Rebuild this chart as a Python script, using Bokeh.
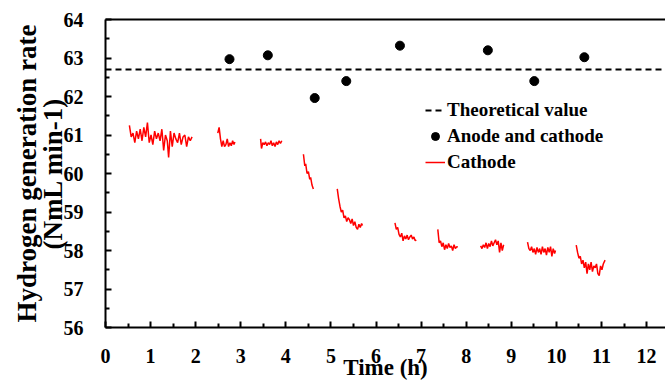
import math
import numpy as np
from bokeh.plotting import figure
from bokeh.models import FixedTicker, LinearAxis, Legend, LegendItem
from bokeh.embed import file_html
from bokeh.resources import INLINE

# ---------------- data ----------------
theoretical_value = 62.7

anode_cathode_time = [2.75, 3.6, 4.64, 5.34, 6.53, 8.48, 9.51, 10.62]
anode_cathode_rate = [62.97, 63.07, 61.96, 62.4, 63.32, 63.2, 62.4, 63.02]

seg1_t = [0.53, 0.57, 0.61, 0.65, 0.69, 0.73, 0.77, 0.81, 0.85, 0.89, 0.93, 0.97,
          1.01, 1.05, 1.09, 1.13, 1.17, 1.21, 1.25, 1.29, 1.33, 1.37, 1.40, 1.44,
          1.48, 1.52, 1.56, 1.60, 1.64, 1.68, 1.72, 1.76, 1.80, 1.84, 1.88, 1.92]
seg1_v = [61.25, 60.95, 61.05, 60.8, 61.1, 60.9, 61.15, 60.85, 61.2, 60.95, 61.32, 60.8,
          61.0, 60.75, 61.1, 60.9, 61.05, 60.85, 61.15, 60.6, 61.0, 60.85, 60.42, 61.1,
          60.7, 61.05, 60.9, 60.8, 61.05, 60.75, 60.95, 61.0, 60.7, 60.95, 60.85, 60.95]
seg2_t = [2.49, 2.52, 2.55, 2.58, 2.61, 2.64, 2.67, 2.70, 2.73, 2.76, 2.79, 2.82, 2.85, 2.87]
seg2_v = [61.05, 61.2, 60.9, 60.7, 60.85, 60.7, 60.75, 60.9, 60.7, 60.8, 60.72, 60.85, 60.75, 60.82]
seg3_t = [3.44, 3.46, 3.49, 3.52, 3.55, 3.58, 3.61, 3.64, 3.67, 3.70, 3.73, 3.76, 3.79, 3.82, 3.85, 3.88, 3.91]
seg3_v = [60.9, 60.65, 60.8, 60.75, 60.82, 60.72, 60.8, 60.75, 60.85, 60.72, 60.8, 60.7, 60.82, 60.75, 60.85, 60.78, 60.85]
seg4_t = [4.39, 4.42, 4.44, 4.47, 4.50, 4.53, 4.55, 4.58, 4.61]
seg4_v = [60.5, 60.2, 60.25, 60.0, 60.05, 59.85, 59.9, 59.7, 59.6]
seg5_t = [5.14, 5.17, 5.20, 5.23, 5.26, 5.29, 5.32, 5.35, 5.38, 5.41, 5.44, 5.47, 5.50, 5.53, 5.56, 5.59, 5.62, 5.65, 5.68, 5.70]
seg5_v = [59.6, 59.35, 59.15, 59.0, 59.05, 58.85, 58.9, 58.75, 58.85, 58.8, 58.7, 58.82, 58.65, 58.75, 58.6, 58.55, 58.68, 58.6, 58.7, 58.65]
seg6_t = [6.42, 6.45, 6.48, 6.51, 6.54, 6.57, 6.60, 6.63, 6.66, 6.69, 6.72, 6.75, 6.78, 6.81, 6.84, 6.87, 6.89]
seg6_v = [58.72, 58.55, 58.6, 58.42, 58.35, 58.45, 58.25, 58.38, 58.3, 58.4, 58.28, 58.35, 58.4, 58.3, 58.35, 58.25, 58.28]
seg7_t = [7.37, 7.40, 7.43, 7.46, 7.49, 7.52, 7.55, 7.58, 7.61, 7.64, 7.67, 7.70, 7.73, 7.76, 7.79, 7.81]
seg7_v = [58.55, 58.2, 58.25, 58.1, 58.2, 58.02, 58.15, 58.05, 58.18, 58.08, 58.12, 58.0, 58.15, 58.05, 58.1, 58.08]
seg8_t = [8.32, 8.35, 8.38, 8.41, 8.44, 8.47, 8.50, 8.53, 8.56, 8.59, 8.62, 8.65, 8.68, 8.71, 8.74, 8.77, 8.80, 8.83]
seg8_v = [58.12, 58.05, 58.15, 58.08, 58.2, 58.05, 58.18, 58.1, 58.25, 58.12, 58.2, 58.28, 58.15, 58.25, 57.95, 58.2, 58.0, 58.15]
seg9_t = [9.36, 9.39, 9.42, 9.45, 9.48, 9.51, 9.54, 9.57, 9.60, 9.63, 9.66, 9.69, 9.72, 9.75, 9.78, 9.81, 9.84, 9.87, 9.90, 9.93, 9.96, 9.98]
seg9_v = [58.22, 58.05, 58.0, 58.1, 57.95, 58.05, 57.9, 58.08, 57.95, 58.05, 57.9, 58.1, 57.95, 58.05, 57.88, 58.08, 57.95, 58.1, 57.85, 58.05, 57.92, 58.0]
seg10_t = [10.44, 10.47, 10.50, 10.53, 10.56, 10.59, 10.62, 10.65, 10.68, 10.71, 10.74, 10.77, 10.80, 10.83, 10.86, 10.89, 10.92, 10.95, 10.98, 11.01, 11.04, 11.08]
seg10_v = [58.14, 57.95, 57.8, 57.85, 57.65, 57.75, 57.55, 57.7, 57.4, 57.65, 57.5, 57.7, 57.45, 57.6, 57.55, 57.65, 57.4, 57.35, 57.6, 57.5, 57.65, 57.75]

cathode_segments = [(seg1_t, seg1_v), (seg2_t, seg2_v), (seg3_t, seg3_v), (seg4_t, seg4_v),
                    (seg5_t, seg5_v), (seg6_t, seg6_v), (seg7_t, seg7_v), (seg8_t, seg8_v),
                    (seg9_t, seg9_v), (seg10_t, seg10_v)]

x_ticks = list(range(0, 13))
y_ticks = list(range(56, 65))
x_start, x_end = 0, 12.42
y_start, y_end = 56, 64

# ---------------- figure ----------------
FONT = "Liberation Serif"

p = figure(width=665, height=382, output_backend="svg", toolbar_location=None,
           x_range=(x_start, x_end), y_range=(y_start, y_end))
p.min_border_left = 105
p.min_border_right = 0
p.min_border_top = 19
p.min_border_bottom = 54
p.outline_line_color = None
p.background_fill_color = "white"
p.border_fill_color = "white"
p.grid.visible = False

for ax in (p.xaxis[0], p.yaxis[0]):
    ax.axis_line_width = 2
    ax.axis_line_color = "black"
    ax.major_tick_in = 6
    ax.major_tick_out = 0
    ax.minor_tick_in = 4
    ax.minor_tick_out = 0
    ax.major_tick_line_width = 2
    ax.minor_tick_line_width = 2
    ax.major_tick_line_color = "black"
    ax.minor_tick_line_color = "black"
    ax.major_label_text_font = FONT
    ax.major_label_text_font_style = "bold"
    ax.major_label_text_font_size = "20px"
    ax.major_label_text_color = "black"
    ax.axis_label_text_font = FONT
    ax.axis_label_text_font_style = "bold"
    ax.axis_label_text_color = "black"

p.xaxis[0].ticker = FixedTicker(ticks=x_ticks, minor_ticks=[t + 0.5 for t in x_ticks[:-1]])
p.yaxis[0].ticker = FixedTicker(ticks=y_ticks, minor_ticks=[t + 0.5 for t in y_ticks[:-1]])
p.xaxis[0].major_label_standoff = 21
p.yaxis[0].major_label_standoff = 22

p.xaxis[0].axis_label = "Time (h)"
p.xaxis[0].axis_label_text_font_size = "23px"
p.xaxis[0].axis_label_standoff = -11
p.yaxis[0].axis_label = "Hydrogen generation rate\n(NmL min-1)"
p.yaxis[0].axis_label_text_font_size = "27px"
p.yaxis[0].axis_label_standoff = -7
p.yaxis[0].axis_label_text_line_height = 0.85

top = LinearAxis(axis_line_width=2, axis_line_color="black",
                 major_tick_in=0, major_tick_out=0, minor_tick_in=0, minor_tick_out=0,
                 major_label_text_font_size="0px", major_label_standoff=0,
                 ticker=FixedTicker(ticks=[]))
p.add_layout(top, "above")

# theoretical value line
theo = p.line([x_start, x_end], [theoretical_value, theoretical_value],
              line_color="black", line_width=2, line_dash="6 4")

# cathode (segments separated by NaN gaps)
cx, cy = [], []
for t, v in cathode_segments:
    if cx:
        cx.append(float("nan"))
        cy.append(float("nan"))
    cx.extend(t)
    cy.extend(v)
cath = p.line(cx, cy, line_color="red", line_width=1.5)

# anode and cathode points
pts = p.scatter(anode_cathode_time, anode_cathode_rate, size=9, color="black")

legend = Legend(items=[
    LegendItem(label="Theoretical value", renderers=[theo]),
    LegendItem(label="Anode and cathode", renderers=[pts]),
    LegendItem(label="Cathode", renderers=[cath]),
], location=(320, 154))
legend.border_line_color = None
legend.background_fill_alpha = 0
legend.label_text_font = FONT
legend.label_text_font_style = "bold"
legend.label_text_font_size = "19px"
legend.label_text_color = "black"
legend.glyph_width = 20
legend.glyph_height = 22
legend.label_height = 22
legend.label_standoff = 2
legend.spacing = 4
legend.padding = 0
legend.margin = 0
p.add_layout(legend, "center")

open("out.html", "w").write(file_html(p, INLINE))
